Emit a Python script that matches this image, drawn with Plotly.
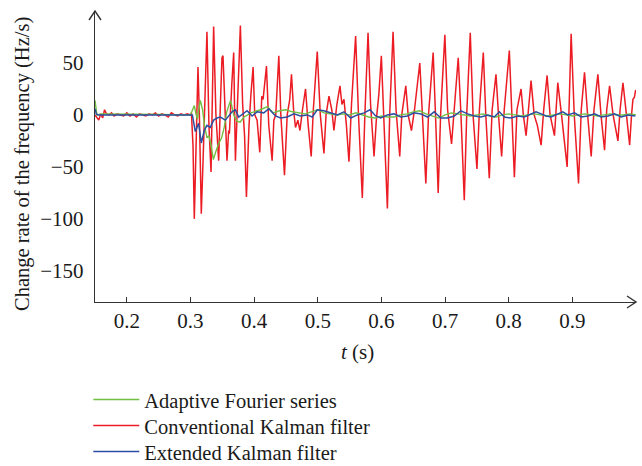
import plotly.graph_objects as go

# ---------------- data ----------------
t_red = [0.150, 0.153, 0.156, 0.159, 0.162, 0.165, 0.168, 0.172, 0.176, 0.180, 0.185, 0.190,
         0.195, 0.200, 0.205, 0.210, 0.215, 0.220, 0.225, 0.230, 0.235, 0.240, 0.245, 0.250,
         0.255, 0.260, 0.265, 0.270, 0.275, 0.280, 0.285, 0.290, 0.295, 0.300,
         0.3015, 0.3040, 0.3060, 0.3090, 0.3118, 0.3140, 0.3170, 0.3200, 0.3235, 0.3259,
         0.3290, 0.3323, 0.3345, 0.3364, 0.3400, 0.3443, 0.3470, 0.3495, 0.3511, 0.3540,
         0.3574, 0.3600, 0.3611, 0.3650, 0.3679, 0.3706, 0.3740, 0.3784, 0.3820, 0.3850,
         0.3879, 0.3920, 0.3950, 0.3984, 0.4010, 0.4047, 0.4089, 0.4120, 0.4141, 0.4194,
         0.4230, 0.4283, 0.4310, 0.4340, 0.4388, 0.4420, 0.4477, 0.4520, 0.4560, 0.4587,
         0.4620, 0.4650, 0.4687, 0.4720, 0.4760, 0.4808, 0.4850, 0.4897, 0.4930, 0.4992,
         0.5040, 0.5097, 0.5130, 0.5176, 0.5220, 0.5254, 0.5300, 0.5349, 0.5380, 0.5412,
         0.5450, 0.5490, 0.5530, 0.5595, 0.5640, 0.5700, 0.5740, 0.5790, 0.5830, 0.5884,
         0.5920, 0.5960, 0.5999, 0.6040, 0.6094, 0.6130, 0.6183, 0.6230, 0.6288, 0.6320,
         0.6383, 0.6420, 0.6472, 0.6520, 0.6603, 0.6640, 0.6698, 0.6740, 0.6813, 0.6850,
         0.6892, 0.6930, 0.6997, 0.7040, 0.7102, 0.7150, 0.7207, 0.7250, 0.7302, 0.7340,
         0.7396, 0.7440, 0.7501, 0.7540, 0.7601, 0.7640, 0.7695, 0.7740, 0.7800, 0.7840,
         0.7889, 0.7930, 0.8010, 0.8050, 0.8089, 0.8130, 0.8194, 0.8230, 0.8273, 0.8310,
         0.8351, 0.8400, 0.8450, 0.8509, 0.8550, 0.8603, 0.8650, 0.8719, 0.8771, 0.8830,
         0.8918, 0.8950, 0.8981, 0.9030, 0.9097, 0.9140, 0.9191, 0.9240, 0.9296, 0.9340,
         0.9401, 0.9450, 0.9506, 0.9540, 0.9585, 0.9640, 0.9716, 0.9750, 0.9795, 0.9850,
         0.9900, 0.9930, 0.9952, 0.9975, 0.9995]
v_red = [0, -2, -5, 1, -3, 5, 1, 0, 2, -1, 1, 0,
         -1, 2, -1, 1, -2, 1, 0, -1, 1, 0, 2, -1,
         1, 0, -2, 2, 0, -1, 1, 0, 1, 0,
         2, -30, -100, -20, 46, 0, -95, -40, 30, 80,
         -10, -55, 20, 85, 0, -44, 10, 55, 57, 10,
         -44, -15, -18, 30, 60, -44, 20, 86, 10, -20,
         -79, -10, 20, 46, 0, -5, -36, 18, 15, 47,
         -10, -44, -5, 0, 57, 0, -58, 0, 15, 39,
         5, -12, -5, -15, 5, 25, -10, -40, 5, 61,
         0, -37, 0, 18, 5, -15, 10, 28, 10, 15,
         -10, -45, 10, 76, 0, -80, 0, 79, 10, -40,
         -5, 20, 57, 0, -90, 0, 80, 5, -40, 0,
         28, 0, -15, 5, 50, 5, -66, 0, 60, 0,
         -75, 0, 77, 5, -28, 10, 55, 0, -82, 0,
         79, 0, -52, 5, 60, 0, -61, 5, 39, 0,
         -40, 5, 62, 0, -60, 5, 25, 0, -20, 5,
         33, 0, -10, -29, 5, 38, 0, -20, 31, 0,
         -50, 10, 78, 0, -66, 5, 41, 0, -40, 5,
         39, 0, -34, 5, 28, 0, -25, 5, 31, 0,
         -29, 0, 15, 17, 24]

t_green = [0.150, 0.1515, 0.153, 0.160, 0.200, 0.250, 0.300, 0.303, 0.306, 0.309, 0.311, 0.313,
           0.3155, 0.319, 0.322, 0.326, 0.329, 0.332, 0.336, 0.340, 0.344, 0.349, 0.353, 0.357,
           0.361, 0.363, 0.368, 0.373, 0.378, 0.384, 0.390, 0.395, 0.400, 0.410, 0.421, 0.430,
           0.440, 0.450, 0.460, 0.470, 0.480, 0.490, 0.500, 0.510, 0.520, 0.530, 0.540, 0.550,
           0.560, 0.570, 0.580, 0.590, 0.600, 0.610, 0.620, 0.630, 0.640, 0.650, 0.660, 0.670,
           0.680, 0.690, 0.700, 0.710, 0.720, 0.730, 0.740, 0.750, 0.760, 0.770, 0.780, 0.790,
           0.800, 0.810, 0.820, 0.830, 0.840, 0.850, 0.860, 0.870, 0.880, 0.890, 0.900, 0.910,
           0.920, 0.930, 0.940, 0.950, 0.960, 0.970, 0.980, 0.990, 1.000]
v_green = [14, 5, 0, 1, 0.5, 0.5, 0, 5, 9, 0, -4, 5,
           14, 5, -10, -22, -20, -28, -43, -35, -28, -22, -12, 3,
           12, 14, 0, -6, -7, -2, 0, 2, 3, 5, 8, 2,
           4, 5, 3, 2, 1, 3, 5, 2, 1, 0, 1, 0,
           2, 0, -2, -3, -1, -2, -2, 0, 1, 3, 4, 1,
           -1, -3, 0, 2, 1, 0, -1, 0, 1, -1, -2, 0,
           1, 0, -1, 0, 1, 0, -1, 0, 1, 0, -1, 0,
           1, 0, -1, 0, 1, 0, 0, 1, 0]

t_blue = [0.150, 0.152, 0.155, 0.200, 0.250, 0.303, 0.3076, 0.3128, 0.3170, 0.3217, 0.3259,
          0.3312, 0.3364, 0.3417, 0.3469, 0.3548, 0.3653, 0.3706, 0.3758, 0.3837, 0.3889,
          0.3968, 0.4047, 0.4152, 0.4231, 0.4336, 0.4414, 0.4519, 0.4624, 0.4729, 0.4834,
          0.4913, 0.4992, 0.5097, 0.5202, 0.5307, 0.5412, 0.5517, 0.5622, 0.5727, 0.5821,
          0.5910, 0.5989, 0.6094, 0.6199, 0.6304, 0.6409, 0.6514, 0.6619, 0.6724, 0.6829,
          0.6934, 0.7039, 0.7144, 0.7249, 0.7354, 0.7459, 0.7564, 0.7669, 0.7774, 0.7853,
          0.7931, 0.8036, 0.8141, 0.8246, 0.8430, 0.8509, 0.8588, 0.8666, 0.8850, 0.8929,
          0.9034, 0.9139, 0.9244, 0.9349, 0.9454, 0.9559, 0.9664, 0.9769, 0.9874, 0.9990]
v_blue = [6, 1, 0, 0, 0, 0, -16, -8, -27, -15, -10,
          -12, -5, -3, -2, -5, 3, 5, -2, 2, 4,
          -1, 3, 2, 6, -1, -3, -2, 1, -1, 0,
          -2, 5, 4, 2, 0, 3, -3, 0, 2, 5,
          -1, -3, 0, 1, -2, -1, 2, 1, -2, 3,
          -3, -3, -1, 4, 1, -1, -2, 0, -2, 3,
          -2, -3, -1, -2, 3, 1, -1, -2, 3, 0,
          2, -2, -1, 1, -2, -1, 1, -2, 0, -1]

x_ticks = [0.2, 0.3, 0.4, 0.5, 0.6, 0.7, 0.8, 0.9]
x_tick_labels = ["0.2", "0.3", "0.4", "0.5", "0.6", "0.7", "0.8", "0.9"]
y_ticks = [50, 0, -50, -100, -150]
y_tick_labels = ["50", "0", "\u221250", "\u2212100", "\u2212150"]

names = ["Adaptive Fourier series", "Conventional Kalman filter", "Extended Kalman filter"]

# ---------------- figure ----------------
FONT = "Liberation Serif, Times New Roman, serif"
FS = 21
RED, GREEN, BLUE = "#ec1c24", "#72bf44", "#2b4ea2"
AXC = "#333333"

fig = go.Figure()
fig.add_trace(go.Scatter(x=t_red, y=v_red, mode="lines", name=names[1],
                         line=dict(color=RED, width=1.5), legend="legend2"))
fig.add_trace(go.Scatter(x=t_green, y=v_green, mode="lines", name=names[0],
                         line=dict(color=GREEN, width=1.4), legend="legend"))
fig.add_trace(go.Scatter(x=t_blue, y=v_blue, mode="lines", name=names[2],
                         line=dict(color=BLUE, width=1.5), legend="legend3"))

pw, ph = 541.0, 291.0  # plot area pixel size
ax_w = dict(color=AXC, width=1.4)
shapes = [
    dict(type="path", xref="paper", yref="paper",
         path=f"M {-6/pw},{1-9/ph} L 0,1 L {6/pw},{1-9/ph}", line=ax_w),
    dict(type="path", xref="paper", yref="paper",
         path=f"M {1-9/pw},{6/ph} L 1,0 L {1-9/pw},{-6/ph}", line=ax_w),
]

def leg(ypos):
    return dict(x=-0.0124, y=ypos, xanchor="left", yanchor="top",
                font=dict(family=FONT, size=20.5, color="#1a1a1a"),
                itemwidth=46, bgcolor="rgba(0,0,0,0)")

fig.update_layout(
    width=642, height=466,
    margin=dict(l=95, r=6, t=11, b=164, autoexpand=False),
    paper_bgcolor="white", plot_bgcolor="white",
    font=dict(family=FONT, size=FS, color="#1a1a1a"),
    showlegend=True,
    legend=leg(-0.267),
    legend2=leg(-0.3563),
    legend3=leg(-0.4457),
    shapes=shapes,
    xaxis=dict(range=[0.15, 1.0], showline=True, linecolor=AXC, linewidth=1.4,
               ticks="inside", ticklen=5, tickcolor=AXC, tickwidth=1.2,
               tickvals=x_ticks, ticktext=x_tick_labels, showgrid=False, zeroline=False,
               tickfont=dict(family=FONT, size=FS)),
    yaxis=dict(range=[-180, 100], showline=True, linecolor=AXC, linewidth=1.4,
               ticks="", tickvals=y_ticks, ticktext=y_tick_labels, showgrid=False,
               zeroline=False, ticklabelstandoff=6,
               tickfont=dict(family=FONT, size=FS)),
    annotations=[
        dict(text="Change rate of the frequency (Hz/s)", xref="paper", yref="paper",
             x=-0.135, y=0.474, textangle=-90, showarrow=False,
             xanchor="center", yanchor="middle", font=dict(family=FONT, size=20.5)),
        dict(text="<i>t</i> (s)", xref="paper", yref="paper",
             x=0.486, y=-0.172, showarrow=False, xanchor="center", yanchor="middle",
             font=dict(family=FONT, size=FS)),
    ],
)

fig.write_html("out.html", config={"displayModeBar": False},
               post_script="document.body.style.margin='0px';document.body.style.overflow='hidden';")
